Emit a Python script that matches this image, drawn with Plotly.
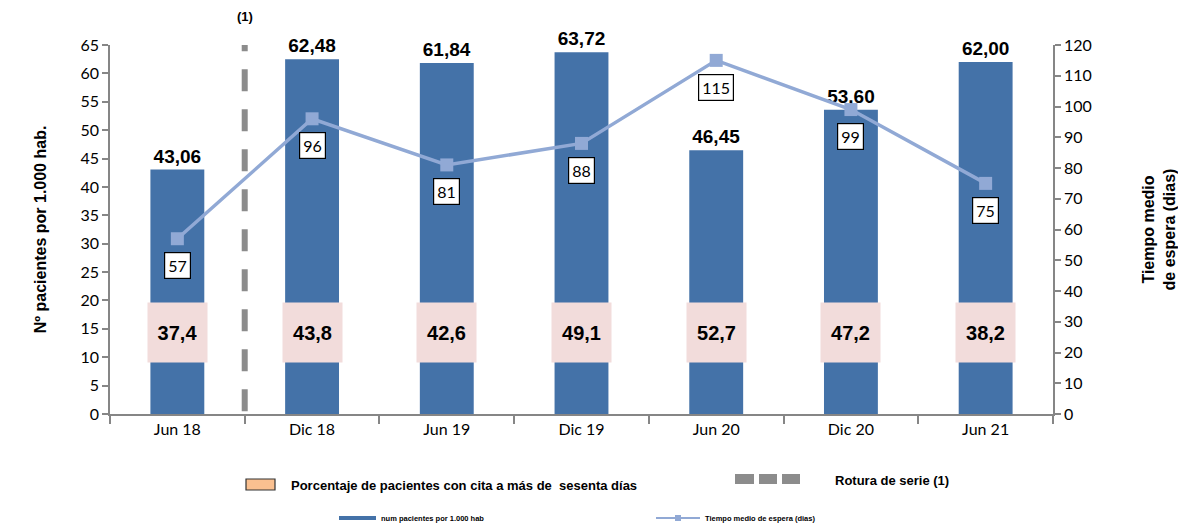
import plotly.graph_objects as go

categories = ["Jun 18", "Dic 18", "Jun 19", "Dic 19", "Jun 20", "Dic 20", "Jun 21"]
pacientes = [43.06, 62.48, 61.84, 63.72, 46.45, 53.60, 62.00]
porcentaje = [37.4, 43.8, 42.6, 49.1, 52.7, 47.2, 38.2]
tiempo = [57, 96, 81, 88, 115, 99, 75]

BAR = "#4472A8"
LINE = "#91A9D5"
PINK = "#F2DCDB"
GRAY = "#8C8C8C"
AX = "#868686"
FONT = "Lato, Open Sans, sans-serif"
NARROW = "Liberation Sans Narrow, Arial Narrow, Liberation Sans, Arial"

fmt2 = lambda v: f"{v:.2f}".replace(".", ",")
fmt1 = lambda v: f"{v:.1f}".replace(".", ",")

fig = go.Figure()
fig.add_trace(go.Bar(
    x=categories, y=pacientes, marker=dict(color=BAR, line=dict(width=0)),
    width=0.4, text=[fmt2(v) for v in pacientes], textposition="outside",
    textfont=dict(family="Liberation Sans, Arial", size=19, color="black", weight="bold"),
    cliponaxis=False, name="num pacientes por 1.000 hab", yaxis="y"))
fig.add_trace(go.Scatter(
    x=categories, y=tiempo, mode="lines+markers", yaxis="y2",
    line=dict(color=LINE, width=3.5), marker=dict(symbol="square", size=13, color=LINE),
    name="Tiempo medio de espera (dias)", cliponaxis=False))

ann = []
for c, p in zip(categories, porcentaje):
    ann.append(dict(x=c, y=14.4, xref="x", yref="y", text=fmt1(p), showarrow=False,
                    bgcolor=PINK, width=57, height=57,
                    font=dict(family="Liberation Sans, Arial", size=20, color="black", weight="bold")))
for c, t in zip(categories, tiempo):
    ann.append(dict(x=c, y=t, xref="x", yref="y2", text=str(t), showarrow=False, yshift=-27,
                    bgcolor="white", bordercolor="black", borderwidth=1.2, borderpad=3,
                    font=dict(family=FONT, size=16, color="black")))

# series break label
ann.append(dict(x=0.5, y=1.0, xref="x", yref="paper", yshift=29, yanchor="middle", text="(1)",
                showarrow=False,
                font=dict(family="Liberation Sans, Arial", size=13, color="black", weight="bold")))

# legend texts
ann += [
    dict(x=(289 - 110) / 943, y=(414 - 485) / 369, xref="paper", yref="paper", xanchor="left",
         yanchor="middle", text="Porcentaje de pacientes con cita a más de  sesenta días",
         showarrow=False, font=dict(family=NARROW, size=13, color="black", weight="bold")),
    dict(x=(833 - 110) / 943, y=(414 - 480) / 369, xref="paper", yref="paper", xanchor="left",
         yanchor="middle", text="Rotura de serie (1)", showarrow=False,
         font=dict(family=NARROW, size=13, color="black", weight="bold")),
    dict(x=(379 - 110) / 943, y=(414 - 518) / 369, xref="paper", yref="paper", xanchor="left",
         yanchor="middle", text="num pacientes por 1.000 hab", showarrow=False,
         font=dict(family=NARROW, size=7.5, color="black", weight="bold")),
    dict(x=(703 - 110) / 943, y=(414 - 518) / 369, xref="paper", yref="paper", xanchor="left",
         yanchor="middle", text="Tiempo medio de espera (dias)", showarrow=False,
         font=dict(family=NARROW, size=7.5, color="black", weight="bold")),
]

px = lambda v: (v - 110) / 943
py = lambda v: (414 - v) / 369
shapes = [
    dict(type="line", xref="x", yref="y", x0=0.5, x1=0.5, y0=0.5, y1=65,
         line=dict(color=GRAY, width=6, dash="22px,18px")),
    dict(type="rect", xref="paper", yref="paper", x0=px(246), x1=px(275), y0=py(490), y1=py(479),
         fillcolor="#FAC090", line=dict(color="#333333", width=1.2)),
    dict(type="rect", xref="paper", yref="paper", x0=px(735), x1=px(754), y0=py(484), y1=py(474),
         fillcolor=GRAY, line=dict(width=0)),
    dict(type="rect", xref="paper", yref="paper", x0=px(759), x1=px(777), y0=py(484), y1=py(474),
         fillcolor=GRAY, line=dict(width=0)),
    dict(type="rect", xref="paper", yref="paper", x0=px(782), x1=px(800), y0=py(484), y1=py(474),
         fillcolor=GRAY, line=dict(width=0)),
    dict(type="line", xref="paper", yref="paper", x0=px(339), x1=px(376), y0=py(518), y1=py(518),
         line=dict(color=BAR, width=4)),
    dict(type="line", xref="paper", yref="paper", x0=px(656), x1=px(700), y0=py(518), y1=py(518),
         line=dict(color=LINE, width=2)),
    dict(type="rect", xref="paper", yref="paper", x0=px(675), x1=px(681), y0=py(521), y1=py(515),
         fillcolor=LINE, line=dict(width=0)),
]

fig.update_layout(
    width=1186, height=528, margin=dict(l=102, r=141, t=37, b=122),
    paper_bgcolor="white", plot_bgcolor="white", showlegend=False,
    font=dict(family=FONT, size=16, color="black"),
    bargap=0.6,
    xaxis=dict(type="category", showline=True, linecolor=AX, linewidth=1.5, ticks="outside",
               tickson="boundaries", ticklen=8, tickcolor=AX, tickwidth=1.5,
               tickfont=dict(family=FONT, size=16), showgrid=False, zeroline=False),
    yaxis=dict(range=[0, 65], dtick=5, showline=True, linecolor=AX, linewidth=1.5,
               ticks="outside", ticklen=6, tickcolor=AX, tickwidth=1.5, showgrid=False,
               zeroline=False, tickfont=dict(family=FONT, size=16),
               title=dict(text="Nº pacientes por 1.000 hab.", standoff=30,
                          font=dict(family="Liberation Sans, Arial", size=16, weight="bold"))),
    yaxis2=dict(range=[0, 120], dtick=10, overlaying="y", side="right", showline=True,
                linecolor=AX, linewidth=1.5, ticks="outside", ticklen=6, tickcolor=AX,
                tickwidth=1.5, showgrid=False, zeroline=False, tickfont=dict(family=FONT, size=16),
                title=dict(text="Tiempo medio<br>de espera (dias)", standoff=52,
                           font=dict(family="Liberation Sans, Arial", size=16, weight="bold"))),
    yaxis3=dict(range=[0, 65], dtick=5, overlaying="y", side="left", showline=False,
                ticks="inside", ticklen=6, tickcolor=AX, tickwidth=1.5, showticklabels=False,
                showgrid=False, zeroline=False),
    yaxis4=dict(range=[0, 120], dtick=10, overlaying="y", side="right", showline=False,
                ticks="inside", ticklen=6, tickcolor=AX, tickwidth=1.5, showticklabels=False,
                showgrid=False, zeroline=False),
    annotations=ann, shapes=shapes,
)

fig.write_html("out.html")
